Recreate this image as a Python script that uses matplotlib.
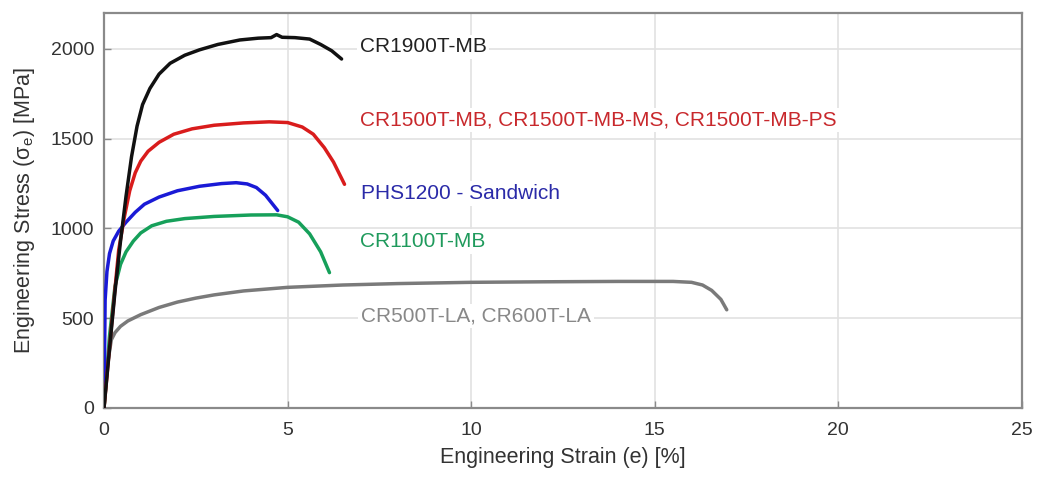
import matplotlib
matplotlib.use("Agg")
import matplotlib.pyplot as plt

plt.rcParams['font.family'] = ['Liberation Sans', 'DejaVu Sans']
plt.rcParams['mathtext.fontset'] = 'custom'
plt.rcParams['mathtext.rm'] = 'Liberation Sans'
plt.rcParams['mathtext.it'] = 'Liberation Sans:italic'

# strain [%] / stress [MPa]
cr1900_x = [0, 0.15, 0.3, 0.45, 0.6, 0.75, 0.9, 1.05, 1.25, 1.5, 1.8, 2.2, 2.6, 3.1, 3.7, 4.2,
            4.55, 4.7, 4.85, 5.2, 5.6, 5.9, 6.2, 6.47]
cr1900_y = [0, 330, 650, 930, 1180, 1400, 1570, 1690, 1780, 1860, 1920, 1965, 1995, 2025, 2050, 2060,
            2063, 2080, 2065, 2063, 2055, 2025, 1990, 1944]

cr1500_x = [0, 0.2, 0.4, 0.55, 0.7, 0.85, 1.0, 1.2, 1.5, 1.9, 2.4, 3.0, 3.8, 4.5, 5.0, 5.4, 5.7,
            6.0, 6.25, 6.55]
cr1500_y = [0, 450, 880, 1060, 1210, 1310, 1375, 1430, 1480, 1525, 1555, 1575, 1588, 1594, 1590, 1565, 1525,
            1450, 1370, 1246]

phs1200_x = [0, 0.03, 0.08, 0.15, 0.25, 0.4, 0.6, 0.85, 1.1, 1.5, 2.0, 2.6, 3.2, 3.6, 3.9, 4.15,
             4.4, 4.73]
phs1200_y = [0, 600, 760, 860, 930, 985, 1035, 1090, 1135, 1175, 1210, 1235, 1250, 1255, 1248, 1228,
             1185, 1100]

cr1100_x = [0, 0.15, 0.3, 0.45, 0.6, 0.8, 1.0, 1.3, 1.7, 2.2, 3.0, 4.0, 4.7, 5.0, 5.3, 5.6, 5.9, 6.14]
cr1100_y = [0, 400, 680, 800, 870, 930, 975, 1015, 1040, 1055, 1067, 1075, 1076, 1065, 1035, 970, 870, 754]

cr500_x = [0, 0.1, 0.2, 0.3, 0.45, 0.65, 1.0, 1.5, 2.0, 2.5, 3.0, 3.8, 5.0, 6.5, 8, 10, 12, 14, 15.5,
           16.0, 16.3, 16.55, 16.8, 16.96]
cr500_y = [0, 250, 380, 420, 455, 485, 520, 560, 590, 612, 630, 652, 672, 685, 693, 700, 703, 705, 705,
           700, 685, 655, 605, 547]

labels = ['CR1900T-MB', 'CR1500T-MB, CR1500T-MB-MS, CR1500T-MB-PS',
          'PHS1200 - Sandwich', 'CR1100T-MB', 'CR500T-LA, CR600T-LA']
label_pos = [(6.96, 2011), (6.96, 1603), (7.0, 1195), (6.96, 927), (7.0, 514)]
line_colors = ['#111111', '#d91c1c', '#1a1ad6', '#16a05a', '#7a7a7a']
text_colors = ['#222222', '#c8282c', '#2a2aa8', '#1f9a5c', '#888888']

fig = plt.figure(figsize=(10.37, 4.83), dpi=100)
ax = fig.add_axes([0.1003, 0.1553, 0.8852, 0.8177])

series = [(cr1900_x, cr1900_y), (cr1500_x, cr1500_y), (phs1200_x, phs1200_y),
          (cr1100_x, cr1100_y), (cr500_x, cr500_y)]
# draw gray first so the others sit on top
for (xs, ys), c in reversed(list(zip(series, line_colors))):
    ax.plot(xs, ys, color=c, lw=2.5, solid_capstyle='round', solid_joinstyle='round', zorder=3)

for lab, (px, py), c in zip(labels, label_pos, text_colors):
    ax.text(px, py, lab, color=c, fontsize=15, va='center', ha='left', zorder=2,
            bbox=dict(facecolor='white', edgecolor='none', pad=2))

ax.set_xlim(0, 25)
ax.set_ylim(0, 2200)
ax.set_xticks([0, 5, 10, 15, 20, 25])
ax.set_yticks([0, 500, 1000, 1500, 2000])
ax.grid(True, color='#e2e2e2', lw=1.2, zorder=0)
ax.set_axisbelow(True)
for s in ax.spines.values():
    s.set_color('#8a8a8a')
    s.set_linewidth(1.6)
ax.tick_params(direction='in', length=5, width=1, color='#8a8a8a',
               labelsize=14, labelcolor='#333333')
ax.tick_params(axis='x', pad=10)
ax.tick_params(axis='y', pad=7)

ax.set_xlabel('Engineering Strain (e) [%]', fontsize=15.5, color='#333333', labelpad=6)
ax.set_ylabel(r'Engineering Stress ($\mathrm{\sigma_e}$) [MPa]', fontsize=15.5,
              color='#333333', labelpad=10)

fig.savefig('out.png', dpi=100)
